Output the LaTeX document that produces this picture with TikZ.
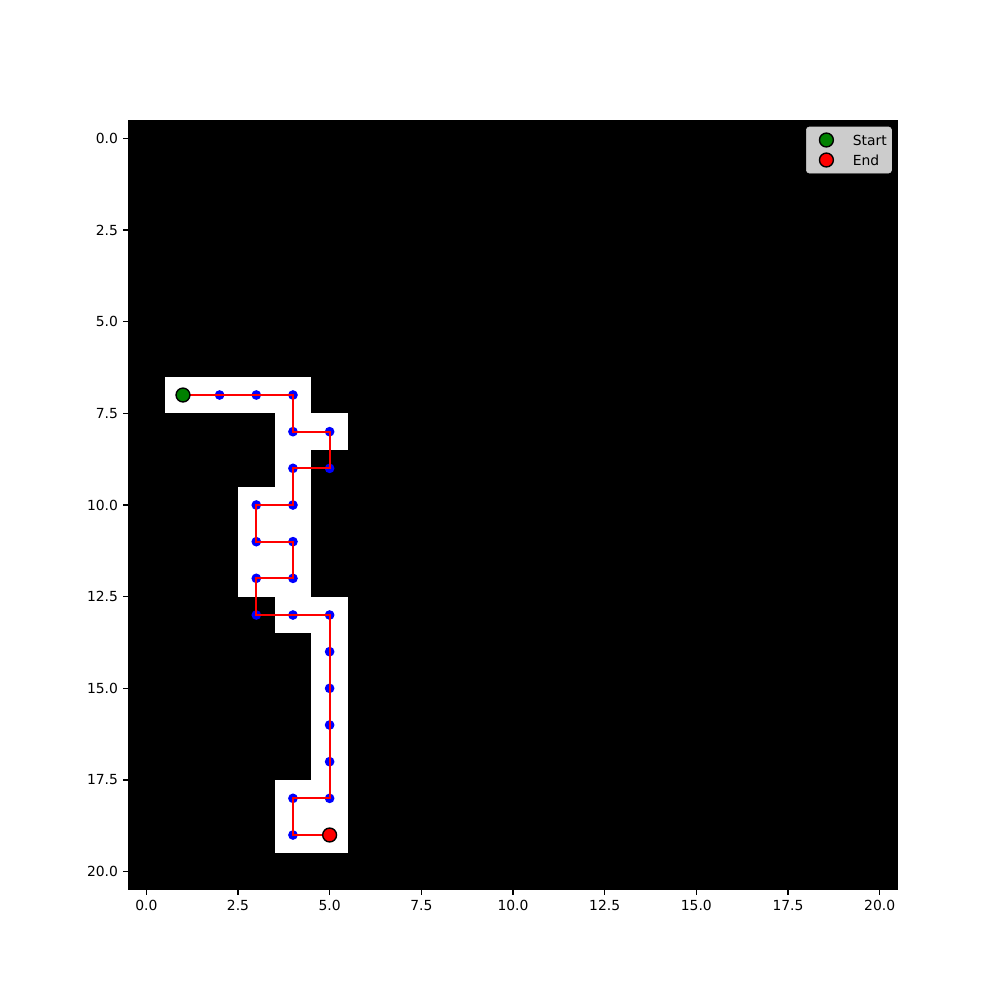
\documentclass[tikz,border=0pt]{standalone}
\usepackage{fontspec}
\setmainfont{DejaVu Sans}
\begin{document}
\begin{tikzpicture}[x=0.931333cm,y=-0.931333cm,
  cell/.style={fill=white},
  pathline/.style={draw=red,line width=1.5bp},
  dot/.style={fill=blue},
  tickline/.style={draw=black,line width=0.8bp},
  ticklabel/.style={inner sep=0pt,font=\fontsize{10bp}{12bp}\selectfont},
  legendbox/.style={fill=black!20,draw=black!20,rounded corners=2bp},
  startmark/.style={fill={rgb,255:red,0;green,128;blue,0},draw=black,line width=1bp},
  endmark/.style={fill=red,draw=black,line width=1bp}]
\useasboundingbox[fill=white] (-3.99,-3.773) rectangle (23.282,23.5);
% axes image
\fill[black] (-0.5,-0.5) rectangle (20.5,20.5);
\foreach \cx/\cy in {1/7,2/7,3/7,4/7,4/8,5/8,4/9,3/10,4/10,3/11,4/11,3/12,4/12,4/13,5/13,5/14,5/15,5/16,5/17,4/18,5/18,4/19,5/19}
  \fill[cell] (\cx-0.5,\cy-0.5) rectangle (\cx+0.5,\cy+0.5);
% path points
\foreach \px/\py [count=\i] in {1/7,2/7,3/7,4/7,4/8,5/8,5/9,4/9,4/10,3/10,3/11,4/11,4/12,3/12,3/13,4/13,5/13,5/14,5/15,5/16,5/17,5/18,4/18,4/19,5/19}
  \coordinate (p\i) at (\px,\py);
\foreach \i in {1,...,25} \fill[dot] (p\i) circle (3.5bp);
\draw[pathline] (p1)--(p2)--(p3)--(p4)--(p5)--(p6)--(p7)--(p8)--(p9)--(p10)--(p11)--(p12)--(p13)--(p14)--(p15)--(p16)--(p17)--(p18)--(p19)--(p20)--(p21)--(p22)--(p23)--(p24)--(p25);
\node[startmark,circle,inner sep=0pt,minimum size=10bp] (start) at (p1) {};
\node[endmark,circle,inner sep=0pt,minimum size=10bp] (end) at (p25) {};
% ticks
\foreach \v/\l [count=\i] in {0/0.0,2.5/2.5,5/5.0,7.5/7.5,10/10.0,12.5/12.5,15/15.0,17.5/17.5,20/20.0} {
  \draw[tickline] (\v,20.5) -- ++(0,-3.5bp) coordinate (xb\i);
  \node[ticklabel,anchor=north] (xl\i) at ([yshift=-3.5bp]xb\i) {\l};
  \draw[tickline] (-0.5,\v) -- ++(-3.5bp,0) coordinate (yb\i);
  \node[ticklabel,anchor=east] (yl\i) at ([xshift=-3.5bp]yb\i) {\l};
}
% legend
\path[legendbox] (18.004,-0.309) rectangle (20.323,0.9455);
\node[startmark,circle,inner sep=0pt,minimum size=10bp] (lstart) at (18.549,0.0455) {};
\node[endmark,circle,inner sep=0pt,minimum size=10bp] (lend) at (18.549,0.591) {};
\node[ticklabel,anchor=west] (tstart) at (19.26,0.0455) {Start};
\node[ticklabel,anchor=west] (tend) at (19.26,0.591) {End};
\end{tikzpicture}
\end{document}
